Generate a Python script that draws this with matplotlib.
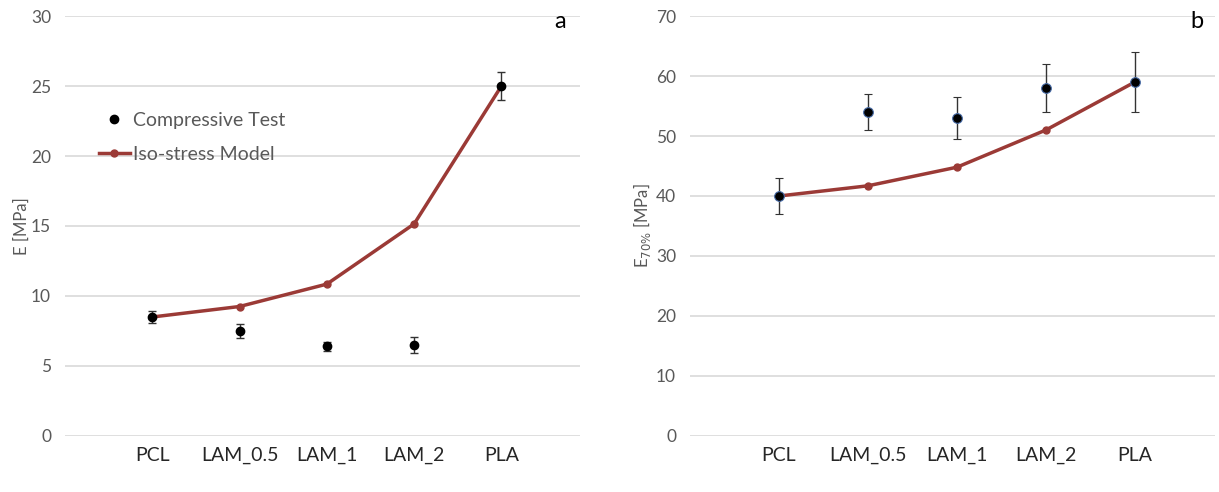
import matplotlib
matplotlib.use("Agg")
import matplotlib.pyplot as plt
from matplotlib.lines import Line2D

categories = ["PCL", "LAM_0.5", "LAM_1", "LAM_2", "PLA"]

# Panel a
comp_E = [8.5, 7.5, 6.4, 6.5, 25.0]
comp_E_err = [0.4, 0.5, 0.35, 0.6, 1.0]
model_E = [8.5, 9.25, 10.85, 15.15, 25.0]

# Panel b
comp_E70 = [40.0, 54.0, 53.0, 58.0, 59.0]
comp_E70_err = [3.0, 3.0, 3.5, 4.0, 5.0]
model_E70 = [40.0, 41.7, 44.8, 51.0, 59.0]

plt.rcParams['font.family'] = ['Lato', 'DejaVu Sans']
TXT = '#595959'
LINE = '#9b3a36'
GRID = '#d9d9d9'

fig = plt.figure(figsize=(12.19, 4.92), dpi=100)
axa = fig.add_axes([65/1219, 56/492, 515/1219, 420/492])
axb = fig.add_axes([690/1219, 56/492, 525/1219, 420/492])

x = list(range(len(categories)))

def style(ax, ymax, step):
    for s in ax.spines.values():
        s.set_visible(False)
    ax.set_ylim(0, ymax)
    ax.set_yticks(list(range(0, ymax + 1, step)))
    ax.yaxis.grid(True, color=GRID, linewidth=1.2)
    ax.set_axisbelow(True)
    ax.tick_params(axis='y', length=0, labelsize=12.5, labelcolor=TXT, pad=10)
    ax.tick_params(axis='x', length=0, labelsize=14, labelcolor='#262626', pad=8)
    ax.set_xticks(x)
    ax.set_xticklabels(categories)
    ax.set_xlim(-1, 4.9)

# Panel a
style(axa, 30, 5)
axa.errorbar(x, comp_E, yerr=comp_E_err, fmt='o', color='black', markersize=6,
             ecolor='#333333', elinewidth=1, capsize=3, capthick=1, zorder=3)
axa.plot(x, model_E, '-o', color=LINE, linewidth=2.5, markersize=5, zorder=2)
axa.set_ylabel('E [MPa]', fontsize=12, color=TXT, labelpad=1)
axa.text(560/1219, 1 - 22/492, 'a', transform=fig.transFigure, fontsize=17,
         color='black', ha='center', va='center')
handles = [Line2D([], [], linestyle='none', marker='o', color='black', markersize=6),
           Line2D([], [], color=LINE, linewidth=2.5, marker='o', markersize=5)]
leg = axa.legend(handles, ['Compressive Test', 'Iso-stress Model'],
                 loc='upper left', bbox_to_anchor=(0.05, 0.79), frameon=False,
                 fontsize=14, handlelength=1.6, handletextpad=0.15, labelspacing=0.85,
                 borderaxespad=0)
for t in leg.get_texts():
    t.set_color(TXT)

# Panel b
style(axb, 70, 10)
axb.errorbar(x, comp_E70, yerr=comp_E70_err, fmt='o', color='black', markersize=7,
             markeredgecolor='#4a6ea9', markeredgewidth=0.8,
             ecolor='#333333', elinewidth=1, capsize=3, capthick=1, zorder=3)
axb.plot(x, model_E70, '-o', color=LINE, linewidth=2.5, markersize=5, zorder=2)
axb.set_ylabel('E$_{70\\%}$ [MPa]', fontsize=12, color=TXT, labelpad=2)
axb.text(1197/1219, 1 - 22/492, 'b', transform=fig.transFigure, fontsize=17,
         color='black', ha='center', va='center')

fig.savefig('out.png', dpi=100, facecolor='white')
